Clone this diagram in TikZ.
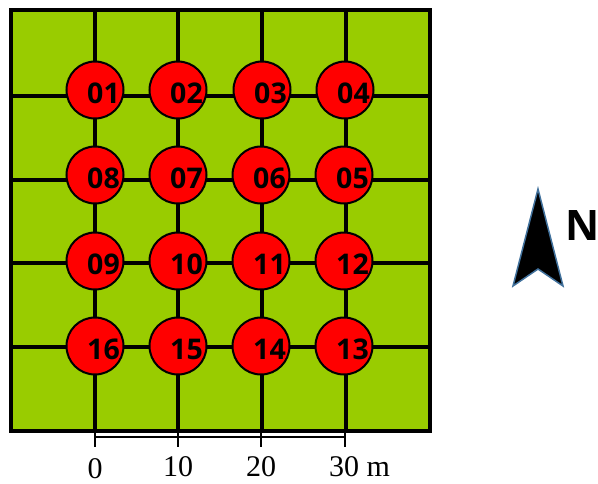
\documentclass[tikz,border=0pt]{standalone}
\usepackage{fontspec}
\setmainfont{Liberation Serif}
\newfontfamily\labfont{Open Sans}
\definecolor{fieldgreen}{HTML}{99CC00}
\definecolor{arrowedge}{HTML}{41719C}
\begin{document}
\begin{tikzpicture}[x=1pt,y=-1pt,
  gridline/.style={line width=3.4pt,black},
  plot/.style={circle,draw=black,line width=2pt,fill=red,minimum size=57pt,inner sep=0pt},
  plotlab/.style={font=\labfont\bfseries\fontsize{28.5}{28.5}\selectfont,inner sep=0pt,text=black},
  scalelab/.style={font=\fontsize{30}{30}\selectfont,inner sep=0pt,anchor=base}]
\useasboundingbox (0,0) rectangle (598,483);
% field
\fill[fieldgreen] (11,10) rectangle (430,431);
\foreach \x in {95,178,262,346} \draw[gridline] (\x,10) -- (\x,431);
\foreach \y in {96,180,263,347} \draw[gridline] (11,\y) -- (430,\y);
\draw[line width=3.4pt] (11,10) rectangle (430,431);
% plots
\foreach \lab/\x/\y in {01/95/90,02/178/90,03/262/90,04/345/90,
                        08/95/175,07/178/175,06/261/175,05/344/175,
                        09/95/261,10/178/261,11/261/261,12/344/261,
                        16/95/346,15/178/346,14/261/346,13/344/346}{
  \node[plot] (p\lab) at (\x,\y) {};
  \node[plotlab] (t\lab) at (\x+8.5,\y+3) {\lab};
}
% scale bar
\coordinate (s0) at (95,437);
\coordinate (s3) at (345,437);
\draw[line width=1.8pt] (s0) -- (s3);
\foreach \x in {95,178,261,345} \draw[line width=1.8pt] (\x,431) -- (\x,447);
\node[scalelab] (l0) at (95,478) {0};
\node[scalelab] (l10) at (178,476) {10};
\node[scalelab] (l20) at (261,476) {20};
\node[scalelab,anchor=base west] (l30) at (329,476) {30 m};
% north arrow
\fill[black,draw=arrowedge,line width=1.5pt,line join=miter]
  (538,189) -- (563,286) -- (538,269) -- (513,286) -- cycle;
\node[font=\labfont\bfseries\fontsize{42}{42}\selectfont,inner sep=0pt,anchor=base west] (north) at (565,240) {N};
\end{tikzpicture}
\end{document}
